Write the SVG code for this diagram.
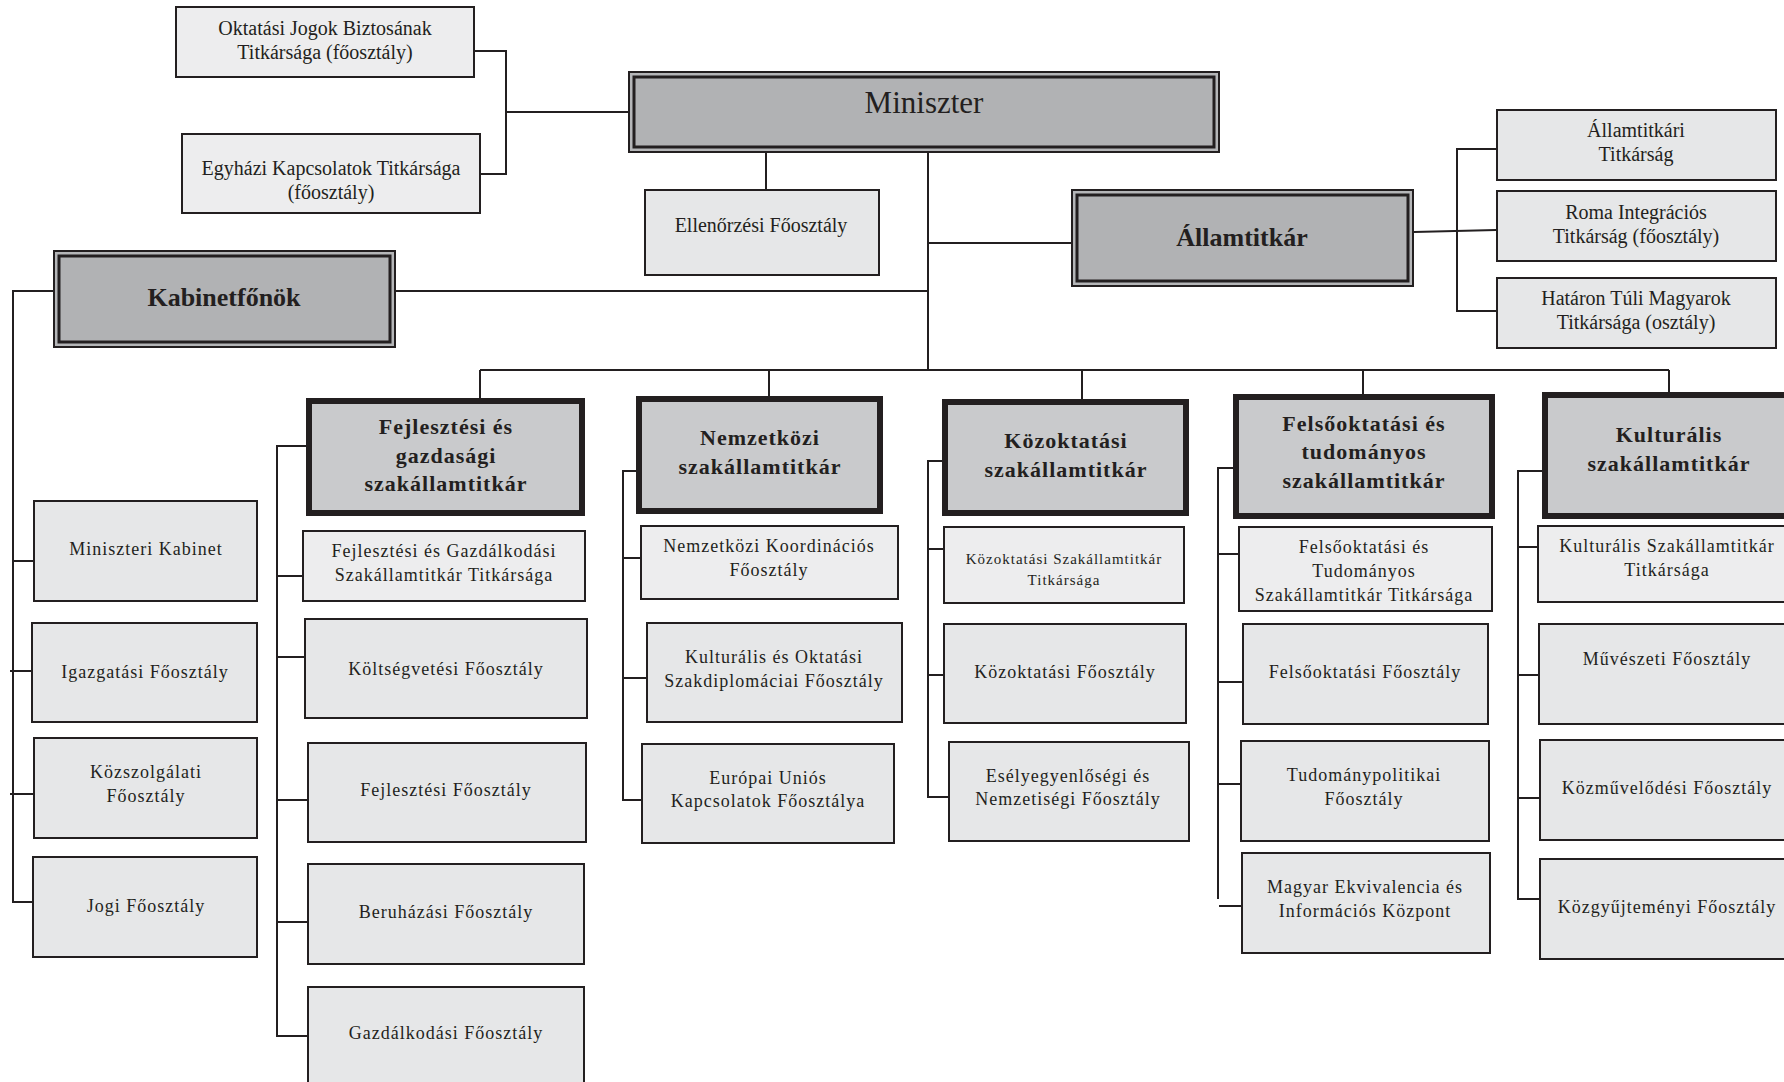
<svg xmlns="http://www.w3.org/2000/svg" width="1784" height="1082" viewBox="0 0 1784 1082">
<style>
.bg{fill:#ffffff}
.sub{fill:#e6e7e8;stroke:#231f20;stroke-width:2}
.subl{fill:#ededee;stroke:#231f20;stroke-width:2}
.dep{fill:#c9cacc;stroke:#231f20;stroke-width:6}
.topo{fill:#b5b6b8;stroke:#231f20;stroke-width:2}
.topi{fill:#b1b2b4;stroke:#231f20;stroke-width:3}
.ln{fill:none;stroke:#231f20;stroke-width:2}
text{font-family:"Liberation Serif","Times New Roman",serif;fill:#231f20;text-anchor:middle}
.t20{font-size:20px}
.t18{font-size:18px;letter-spacing:1px}
.t15{font-size:15px;letter-spacing:1px}
.b26{font-size:26px;font-weight:bold}
.b22{font-size:22px;font-weight:bold;letter-spacing:1px}
.m31{font-size:31px}
</style>
<defs>
<clipPath id="clipFT"><rect x="1238" y="526" width="255" height="80"/></clipPath>
</defs>
<rect class="bg" x="0" y="0" width="1784" height="1082"/>

<g id="connectors">
<path class="ln" d="M475,51 H506 V174 H481"/>
<path class="ln" d="M506,112 H629"/>
<path class="ln" d="M766,153 V189"/>
<path class="ln" d="M928,153 V370"/>
<path class="ln" d="M928,243 H1072"/>
<path class="ln" d="M396,291 H928"/>
<path class="ln" d="M1414,232 L1496,230"/>
<path class="ln" d="M1496,149 H1457 V311 H1496"/>
<path class="ln" d="M480,370 H1669"/>
<path class="ln" d="M480,370 V398 M769,370 V396 M1082,370 V399 M1363,370 V394 M1669,370 V392"/>
<path class="ln" d="M54,291 H13 V902 H32"/>
<path class="ln" d="M13,561 H33 M10,671 H31 M10,794 H33"/>
<path class="ln" d="M306,446 H277 V1036 H307"/>
<path class="ln" d="M277,576 H302 M277,657 H304 M277,800 H307 M277,922 H307"/>
<path class="ln" d="M636,471 H623 V800 H641"/>
<path class="ln" d="M623,558 H640 M623,678 H646"/>
<path class="ln" d="M942,461 H928 V797 H948"/>
<path class="ln" d="M928,549 H943 M928,675 H943"/>
<path class="ln" d="M1233,468 H1218 V899"/>
<path class="ln" d="M1218,554 H1238 M1218,682 H1242 M1218,784 H1240 M1219,906 H1241"/>
<path class="ln" d="M1542,471 H1518 V899 H1539"/>
<path class="ln" d="M1518,547 H1537 M1518,675 H1538 M1518,798 H1539"/>
</g>

<g id="miniszter">
<rect class="topo" x="629" y="72" width="590" height="80"/>
<rect class="topi" x="634" y="77" width="580" height="70"/>
<text class="m31" x="924" y="113">Miniszter</text>
</g>

<g id="oktatasi-jogok">
<rect class="subl" x="176" y="7" width="298" height="70"/>
<text class="t20" x="325" y="35">Oktatási Jogok Biztosának</text>
<text class="t20" x="325" y="59">Titkársága (főosztály)</text>
</g>

<g id="egyhazi">
<rect class="subl" x="182" y="134" width="298" height="79"/>
<text class="t20" x="331" y="175">Egyházi Kapcsolatok Titkársága</text>
<text class="t20" x="331" y="199">(főosztály)</text>
</g>

<g id="ellenorzesi">
<rect class="sub" x="645" y="190" width="234" height="85"/>
<text class="t20" x="761" y="232">Ellenőrzési Főosztály</text>
</g>

<g id="allamtitkar">
<rect class="topo" x="1072" y="190" width="341" height="96"/>
<rect class="topi" x="1077" y="195" width="331" height="86"/>
<text class="b26" x="1242" y="246">Államtitkár</text>
</g>

<g id="allamtitkari-titkarsag">
<rect class="sub" x="1497" y="110" width="279" height="70"/>
<text class="t20" x="1636" y="137">Államtitkári</text>
<text class="t20" x="1636" y="161">Titkárság</text>
</g>

<g id="roma">
<rect class="sub" x="1497" y="191" width="279" height="70"/>
<text class="t20" x="1636" y="219">Roma Integrációs</text>
<text class="t20" x="1636" y="243">Titkárság (főosztály)</text>
</g>

<g id="hataron-tuli">
<rect class="sub" x="1497" y="278" width="279" height="70"/>
<text class="t20" x="1636" y="305">Határon Túli Magyarok</text>
<text class="t20" x="1636" y="329">Titkársága (osztály)</text>
</g>

<g id="kabinetfonok">
<rect class="topo" x="54" y="251" width="341" height="96"/>
<rect class="topi" x="59" y="256" width="331" height="86"/>
<text class="b26" x="224" y="306">Kabinetfőnök</text>
</g>

<g id="miniszteri-kabinet">
<rect class="sub" x="34" y="501" width="223" height="100"/>
<text class="t18" x="146" y="555">Miniszteri Kabinet</text>
</g>
<g id="igazgatasi">
<rect class="sub" x="32" y="623" width="225" height="99"/>
<text class="t18" x="145" y="678">Igazgatási Főosztály</text>
</g>
<g id="kozszolgalati">
<rect class="sub" x="34" y="738" width="223" height="100"/>
<text class="t18" x="146" y="778">Közszolgálati</text>
<text class="t18" x="146" y="802">Főosztály</text>
</g>
<g id="jogi">
<rect class="sub" x="33" y="857" width="224" height="100"/>
<text class="t18" x="146" y="912">Jogi Főosztály</text>
</g>

<g id="fejlesztesi-szakallamtitkar">
<rect class="dep" x="309" y="401" width="273" height="112"/>
<text class="b22" x="446" y="434">Fejlesztési és</text>
<text class="b22" x="446" y="463">gazdasági</text>
<text class="b22" x="446" y="491">szakállamtitkár</text>
</g>
<g id="fejlesztesi-titkarsag">
<rect class="subl" x="303" y="531" width="282" height="70"/>
<text class="t18" x="444" y="557">Fejlesztési és Gazdálkodási</text>
<text class="t18" x="444" y="581">Szakállamtitkár Titkársága</text>
</g>
<g id="koltsegvetesi">
<rect class="sub" x="305" y="619" width="282" height="99"/>
<text class="t18" x="446" y="675">Költségvetési Főosztály</text>
</g>
<g id="fejlesztesi-foosztaly">
<rect class="sub" x="308" y="743" width="278" height="99"/>
<text class="t18" x="446" y="796">Fejlesztési Főosztály</text>
</g>
<g id="beruhazasi">
<rect class="sub" x="308" y="864" width="276" height="100"/>
<text class="t18" x="446" y="918">Beruházási Főosztály</text>
</g>
<g id="gazdalkodasi">
<rect class="sub" x="308" y="987" width="276" height="110"/>
<text class="t18" x="446" y="1039">Gazdálkodási Főosztály</text>
</g>

<g id="nemzetkozi-szakallamtitkar">
<rect class="dep" x="639" y="399" width="241" height="112"/>
<text class="b22" x="760" y="445">Nemzetközi</text>
<text class="b22" x="760" y="474">szakállamtitkár</text>
</g>
<g id="nemzetkozi-koordinacios">
<rect class="subl" x="641" y="526" width="257" height="73"/>
<text class="t18" x="769" y="552">Nemzetközi Koordinációs</text>
<text class="t18" x="769" y="576">Főosztály</text>
</g>
<g id="kulturalis-oktatasi">
<rect class="sub" x="647" y="623" width="255" height="99"/>
<text class="t18" x="774" y="663">Kulturális és Oktatási</text>
<text class="t18" x="774" y="687">Szakdiplomáciai Főosztály</text>
</g>
<g id="europai-unios">
<rect class="sub" x="642" y="744" width="252" height="99"/>
<text class="t18" x="768" y="784">Európai Uniós</text>
<text class="t18" x="768" y="807">Kapcsolatok Főosztálya</text>
</g>

<g id="kozoktatasi-szakallamtitkar">
<rect class="dep" x="945" y="402" width="241" height="111"/>
<text class="b22" x="1066" y="448">Közoktatási</text>
<text class="b22" x="1066" y="477">szakállamtitkár</text>
</g>
<g id="kozoktatasi-titkarsag">
<rect class="subl" x="944" y="527" width="240" height="76"/>
<text class="t15" x="1064" y="564">Közoktatási Szakállamtitkár</text>
<text class="t15" x="1064" y="585">Titkársága</text>
</g>
<g id="kozoktatasi-foosztaly">
<rect class="sub" x="944" y="624" width="242" height="99"/>
<text class="t18" x="1065" y="678">Közoktatási Főosztály</text>
</g>
<g id="eselyegyenlosegi">
<rect class="sub" x="949" y="742" width="240" height="99"/>
<text class="t18" x="1068" y="782">Esélyegyenlőségi és</text>
<text class="t18" x="1068" y="805">Nemzetiségi Főosztály</text>
</g>

<g id="felsooktatasi-szakallamtitkar">
<rect class="dep" x="1236" y="397" width="256" height="119"/>
<text class="b22" x="1364" y="431">Felsőoktatási és</text>
<text class="b22" x="1364" y="459">tudományos</text>
<text class="b22" x="1364" y="488">szakállamtitkár</text>
</g>
<g id="felsooktatasi-titkarsag">
<rect class="subl" x="1239" y="527" width="253" height="84"/>
<g clip-path="url(#clipFT)">
<text class="t18" x="1364" y="553">Felsőoktatási és</text>
<text class="t18" x="1364" y="577">Tudományos</text>
<text class="t18" x="1364" y="601">Szakállamtitkár Titkársága</text>
</g>
</g>
<g id="felsooktatasi-foosztaly">
<rect class="sub" x="1243" y="624" width="245" height="100"/>
<text class="t18" x="1365" y="678">Felsőoktatási Főosztály</text>
</g>
<g id="tudomanypolitikai">
<rect class="sub" x="1241" y="741" width="248" height="100"/>
<text class="t18" x="1364" y="781">Tudománypolitikai</text>
<text class="t18" x="1364" y="805">Főosztály</text>
</g>
<g id="magyar-ekvivalencia">
<rect class="sub" x="1242" y="853" width="248" height="100"/>
<text class="t18" x="1365" y="893">Magyar Ekvivalencia és</text>
<text class="t18" x="1365" y="917">Információs Központ</text>
</g>

<g id="kulturalis-szakallamtitkar">
<rect class="dep" x="1545" y="395" width="260" height="121"/>
<text class="b22" x="1669" y="442">Kulturális</text>
<text class="b22" x="1669" y="471">szakállamtitkár</text>
</g>
<g id="kulturalis-titkarsag">
<rect class="subl" x="1538" y="526" width="260" height="76"/>
<text class="t18" x="1667" y="552">Kulturális Szakállamtitkár</text>
<text class="t18" x="1667" y="576">Titkársága</text>
</g>
<g id="muveszeti">
<rect class="sub" x="1539" y="624" width="260" height="100"/>
<text class="t18" x="1667" y="665">Művészeti Főosztály</text>
</g>
<g id="kozmuvelodesi">
<rect class="sub" x="1540" y="740" width="258" height="100"/>
<text class="t18" x="1667" y="794">Közművelődési Főosztály</text>
</g>
<g id="kozgyujtemenyi">
<rect class="sub" x="1540" y="859" width="258" height="100"/>
<text class="t18" x="1667" y="913">Közgyűjteményi Főosztály</text>
</g>
</svg>
